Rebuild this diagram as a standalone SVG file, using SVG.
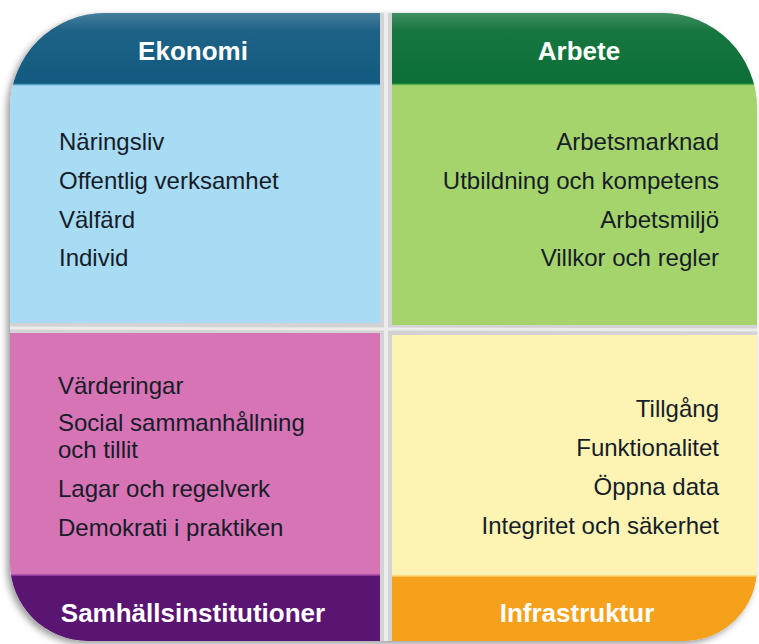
<svg xmlns="http://www.w3.org/2000/svg" width="759" height="644" viewBox="0 0 759 644">
  <defs>
    <style>
      .hdr { font-family: "Liberation Sans", Arial, sans-serif; font-weight: bold; font-size: 26px; fill: #ffffff; text-anchor: middle; }
      .item { font-family: "Liberation Sans", Arial, sans-serif; font-size: 24px; fill: #161c28; }
      .end { text-anchor: end; }
    </style>
    <filter id="shadow" x="-5%" y="-5%" width="110%" height="110%">
      <feDropShadow dx="-3" dy="3" stdDeviation="3.5" flood-color="#000000" flood-opacity="0.4"/>
    </filter>
    <linearGradient id="gloss" x1="0" y1="0" x2="0" y2="1">
      <stop offset="0" stop-color="#ffffff" stop-opacity="0.22"/>
      <stop offset="0.25" stop-color="#ffffff" stop-opacity="0.05"/>
      <stop offset="1" stop-color="#ffffff" stop-opacity="0"/>
    </linearGradient>
    <clipPath id="clipTL"><path d="M10,108 A95,95 0 0 1 105,13 L380,13 L380,323 L10,323 Z"/></clipPath>
    <clipPath id="clipTR"><path d="M392,13 L662,13 A95,95 0 0 1 757,108 L757,325 L392,325 Z"/></clipPath>
    <clipPath id="clipBL"><path d="M10,333 L380,333 L380,641 L88,641 A78,78 0 0 1 10,563 Z"/></clipPath>
    <clipPath id="clipBR"><path d="M392,335 L757,335 L757,568 A73,73 0 0 1 684,641 L392,641 Z"/></clipPath>
  </defs>

  <rect x="0" y="0" width="759" height="644" fill="#ffffff"/>

  <g id="base">
    <path d="M10,108 A95,95 0 0 1 105,13 L662,13 A95,95 0 0 1 757,108 L757,568 A73,73 0 0 1 684,641 L88,641 A78,78 0 0 1 10,563 Z" fill="#d3d3d3" filter="url(#shadow)"/>
    <line x1="386" y1="13" x2="386" y2="641" stroke="#ececec" stroke-width="4"/>
    <line x1="10" y1="328" x2="757" y2="330" stroke="#ececec" stroke-width="3"/>
  </g>

  <g id="ekonomi" clip-path="url(#clipTL)">
    <rect x="10" y="13" width="370" height="71" fill="#125a80"/>
    <rect x="10" y="13" width="370" height="71" fill="url(#gloss)"/>
    <rect x="10" y="84" width="370" height="239" fill="#a8dbf4"/>
    <line x1="10" y1="84.5" x2="380" y2="84.5" stroke="#4f9cc4" stroke-width="1.5"/>
    <text class="hdr" x="193" y="60">Ekonomi</text>
    <text class="item" x="59" y="150">Näringsliv</text>
    <text class="item" x="59" y="189">Offentlig verksamhet</text>
    <text class="item" x="59" y="228">Välfärd</text>
    <text class="item" x="59" y="266">Individ</text>
  </g>

  <g id="arbete" clip-path="url(#clipTR)">
    <rect x="392" y="13" width="365" height="71" fill="#0b6f36"/>
    <rect x="392" y="13" width="365" height="71" fill="url(#gloss)"/>
    <rect x="392" y="84" width="365" height="241" fill="#a6d46c"/>
    <line x1="392" y1="84.5" x2="757" y2="84.5" stroke="#5aae4a" stroke-width="1.5"/>
    <text class="hdr" x="579" y="60">Arbete</text>
    <text class="item end" x="719" y="150">Arbetsmarknad</text>
    <text class="item end" x="719" y="189">Utbildning och kompetens</text>
    <text class="item end" x="719" y="228">Arbetsmiljö</text>
    <text class="item end" x="719" y="266">Villkor och regler</text>
  </g>

  <g id="samhallsinstitutioner" clip-path="url(#clipBL)">
    <rect x="10" y="333" width="370" height="242" fill="#d674b6"/>
    <rect x="10" y="575" width="370" height="66" fill="#5a1472"/>
    <line x1="10" y1="575" x2="380" y2="575" stroke="#a14aa8" stroke-width="1.5"/>
    <text class="item" x="58" y="394">Värderingar</text>
    <text class="item" x="58" y="431">Social sammanhållning</text>
    <text class="item" x="58" y="458">och tillit</text>
    <text class="item" x="58" y="497">Lagar och regelverk</text>
    <text class="item" x="58" y="536">Demokrati i praktiken</text>
    <text class="hdr" x="193" y="622">Samhällsinstitutioner</text>
  </g>

  <g id="infrastruktur" clip-path="url(#clipBR)">
    <rect x="392" y="335" width="365" height="241" fill="#fdf4b4"/>
    <rect x="392" y="576" width="365" height="65" fill="#f6a11c"/>
    <line x1="392" y1="576" x2="757" y2="576" stroke="#fbd26a" stroke-width="1.5"/>
    <text class="item end" x="719" y="417">Tillgång</text>
    <text class="item end" x="719" y="456">Funktionalitet</text>
    <text class="item end" x="719" y="495">Öppna data</text>
    <text class="item end" x="719" y="534">Integritet och säkerhet</text>
    <text class="hdr" x="577" y="622">Infrastruktur</text>
  </g>
</svg>
